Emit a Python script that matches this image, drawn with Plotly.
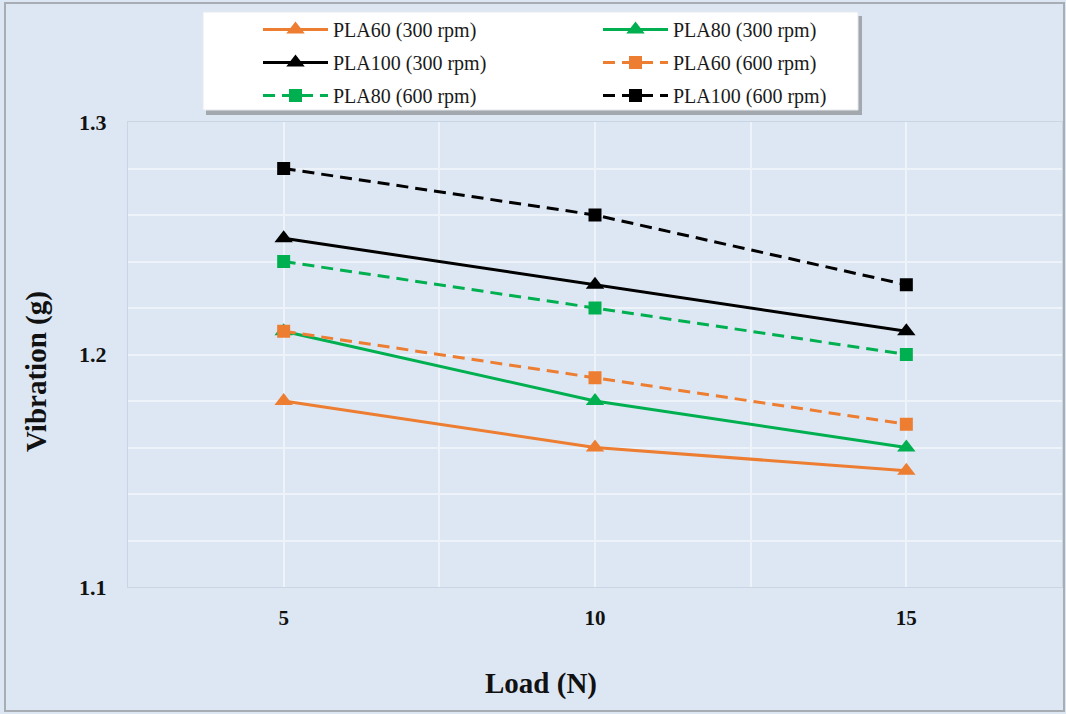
import plotly.graph_objects as go

loads = [5, 10, 15]
pla60_300 = [1.18, 1.16, 1.15]
pla80_300 = [1.21, 1.18, 1.16]
pla100_300 = [1.25, 1.23, 1.21]
pla60_600 = [1.21, 1.19, 1.17]
pla80_600 = [1.24, 1.22, 1.20]
pla100_600 = [1.28, 1.26, 1.23]

ORANGE = "#ED7D31"
GREEN = "#00B050"
BLACK = "#000000"
FONT = "Liberation Serif"

W, H = 1066, 714
ML, MR, MT, MB = 128, 4, 122, 127
PW, PH = W - ML - MR, H - MT - MB


def px(x):
    return (x - ML) / PW


def py(y):
    return (H - MB - y) / PH


series = [
    ("PLA60 (300 rpm)", pla60_300, ORANGE, "solid", "triangle-up", "legend"),
    ("PLA100 (300 rpm)", pla100_300, BLACK, "solid", "triangle-up", "legend"),
    ("PLA80 (600 rpm)", pla80_600, GREEN, "12px,7px", "square", "legend"),
    ("PLA80 (300 rpm)", pla80_300, GREEN, "solid", "triangle-up", "legend2"),
    ("PLA60 (600 rpm)", pla60_600, ORANGE, "12px,7px", "square", "legend2"),
    ("PLA100 (600 rpm)", pla100_600, BLACK, "12px,7px", "square", "legend2"),
]

fig = go.Figure()
for name, vals, col, dash, sym, lg in series:
    fig.add_trace(go.Scatter(
        x=loads, y=vals, name=name, mode="lines+markers",
        line=dict(color=col, width=3, dash=dash),
        marker=dict(symbol=sym, size=13 if sym == "square" else 16, color=col),
        legend=lg, legendgroup=name,
    ))

legend_common = dict(
    orientation="v", xanchor="left", yanchor="top",
    bgcolor="rgba(0,0,0,0)", borderwidth=0,
    font=dict(family=FONT, size=20, color="#1a1a1a"),
    itemwidth=65, tracegroupgap=4,
)

BG = "#DDE7F3"
GRID = "#EEF3FA"

fig.update_layout(
    width=W, height=H,
    margin=dict(l=ML, r=MR, t=MT, b=MB),
    paper_bgcolor=BG, plot_bgcolor=BG,
    showlegend=True,
    legend=dict(x=px(258), y=py(10), **legend_common),
    legend2=dict(x=px(598), y=py(10), **legend_common),
    xaxis=dict(
        range=[2.5, 17.5], tickmode="linear", tick0=5, dtick=5,
        showgrid=True, gridcolor=GRID, gridwidth=1.5,
        minor=dict(dtick=2.5, tick0=5, showgrid=True, gridcolor=GRID, gridwidth=1.5),
        showline=True, linecolor="#C9D5E3", linewidth=1, mirror=True,
        zeroline=False, ticks="", ticklabelstandoff=12,
        tickfont=dict(family=FONT, size=21, color="#111111", weight="bold"),
    ),
    yaxis=dict(
        range=[1.1, 1.3], tickmode="linear", tick0=1.1, dtick=0.1,
        tickformat=".1f",
        showgrid=True, gridcolor=GRID, gridwidth=1.5,
        minor=dict(dtick=0.02, showgrid=True, gridcolor=GRID, gridwidth=1.5),
        showline=True, linecolor="#C9D5E3", linewidth=1, mirror=True,
        zeroline=False, ticks="", ticklabelstandoff=16,
        tickfont=dict(family=FONT, size=22, color="#111111", weight="bold"),
    ),
    annotations=[
        dict(text="<b>Load (N)</b>", x=px(541), y=py(683), xref="paper", yref="paper",
             xanchor="center", yanchor="middle", showarrow=False,
             font=dict(family=FONT, size=29, color="#111111")),
        dict(text="<b>Vibration (g)</b>", x=px(36), y=py(372), xref="paper", yref="paper",
             xanchor="center", yanchor="middle", showarrow=False, textangle=-90,
             font=dict(family=FONT, size=29, color="#111111")),
    ],
    shapes=[
        # figure frame
        dict(type="rect", xref="paper", yref="paper",
             x0=px(5), x1=px(1064), y0=py(711), y1=py(3),
             line=dict(color="#A8ADB3", width=2), fillcolor="rgba(0,0,0,0)", layer="below"),
        # legend shadow
        dict(type="rect", xref="paper", yref="paper",
             x0=px(206), x1=px(862), y0=py(115), y1=py(16),
             line=dict(width=0), fillcolor="rgba(90,90,90,0.45)", layer="above"),
        # legend box
        dict(type="rect", xref="paper", yref="paper",
             x0=px(203), x1=px(858), y0=py(110), y1=py(12),
             line=dict(color="#E6E9EE", width=1), fillcolor="#FFFFFF", layer="above"),
    ],
)

fig.write_html(
    "out.html",
    config={"displayModeBar": False},
    post_script="document.body.style.margin='0px';document.body.style.overflow='hidden';",
)
